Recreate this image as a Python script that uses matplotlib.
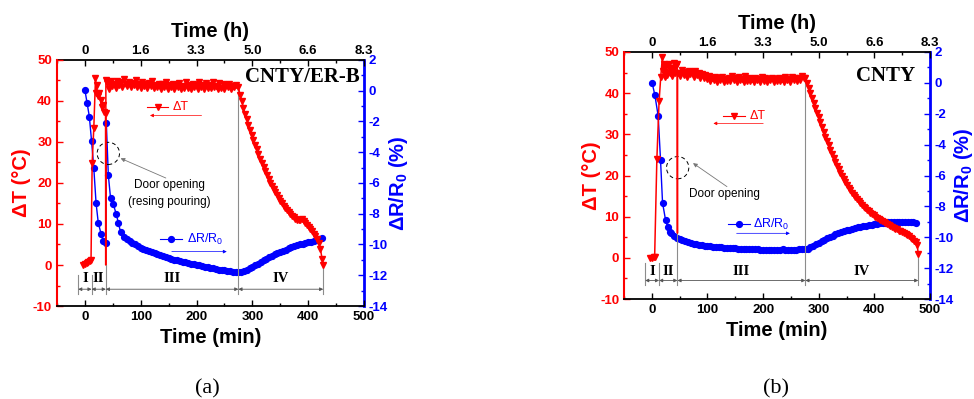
import numpy as np
import matplotlib
matplotlib.use("Agg")
import matplotlib.pyplot as plt
from matplotlib.ticker import MultipleLocator
from matplotlib.patches import Ellipse

plt.rcParams["font.family"] = ["Liberation Sans", "DejaVu Sans"]
plt.rcParams["axes.unicode_minus"] = False
plt.rcParams["mathtext.fontset"] = "custom"
plt.rcParams["mathtext.rm"] = "Liberation Sans"
plt.rcParams["mathtext.bf"] = "Liberation Sans:bold"

RED = "#ff0000"
BLUE = "#0000ff"
GREY = "#8c8c8c"

# --------------------- (a) CNTY/ER-B ---------------------
# temperature rise: heating start + door opening (resin pouring)
a_dT_t0 = [-3, 0, 3, 6, 9, 11, 13, 16, 19, 20, 21, 23, 25, 28, 30, 33, 35, 37, 37.3, 37.6]
a_dT_v0 = [0.0, 0.2, 0.5, 0.7, 0.9, 1.2, 24.8, 33.5, 45.5, 42.0, 43.8, 41.2, 41.8, 40.2,
           38.6, 38.9, 37.4, 37.0, 0.0, 45.0]
a_door_t = [37.3]
# steady state, sampled every 3 min from 40 min
a_dT_plateau = [44.4, 42.8, 44.9, 43.6, 44.2, 43.1, 44.8, 43.9, 44.5, 43.4, 45.3, 44.0, 43.6,
                44.7, 43.3, 44.4, 43.8, 45.0, 43.5, 44.1, 43.2, 44.6, 43.7, 44.0, 43.1, 44.3,
                43.6, 44.8, 43.2, 43.9, 43.4, 44.2, 42.9, 44.0, 43.5, 44.5, 43.0, 43.8, 43.3,
                44.1, 42.8, 43.9, 43.4, 44.3, 43.0, 43.7, 43.2, 44.6, 43.1, 43.8, 42.9, 44.2,
                43.5, 43.9, 43.0, 44.7, 43.3, 43.8, 42.9, 44.4, 43.2, 43.9, 43.1, 44.5, 43.4,
                43.7, 43.0, 44.3, 43.2, 44.0, 42.9, 43.8, 43.4, 44.1, 43.0, 43.6, 43.3, 43.9]
# cooling, every 3 min from 275 min
a_dT_cool = [43.3, 41.5, 40.0, 38.3, 36.8, 35.5, 34.2, 33.0, 31.8, 30.5, 29.3, 28.2, 27.0,
             25.9, 24.8, 23.8, 22.8, 21.9, 21.0, 20.1, 19.3, 18.5, 17.7, 17.0, 16.3, 15.7,
             15.1, 14.5, 13.9, 13.4, 12.9, 12.4, 12.0, 11.6, 11.2, 11.0, 10.9, 11.0, 11.1,
             10.8, 10.3, 9.7, 9.2, 8.7, 8.2, 7.6, 7.0, 6.3, 5.4, 3.8, 1.5]
a_dT_end = [0.0]

# resistance change
a_dR_t0 = [0, 4, 8, 12, 16, 20, 24, 29, 33, 37.5, 38.4, 42, 46, 51, 56, 60, 64]
a_dR_v0 = [0.05, -0.82, -1.69, -3.3, -5.05, -7.3, -8.6, -9.3, -9.75, -9.9, -2.1, -5.5, -7.0,
           -7.4, -8.0, -8.6, -9.2]
# every 5 min from 70 min
a_dR_dense = [-9.5, -9.65, -9.78, -9.9, -10.0, -10.1, -10.2, -10.28, -10.36, -10.44, -10.51,
              -10.58, -10.65, -10.71, -10.77, -10.83, -10.88, -10.93, -10.98, -11.03, -11.08,
              -11.12, -11.16, -11.2, -11.24, -11.28, -11.32, -11.36, -11.4, -11.44, -11.48,
              -11.52, -11.56, -11.6, -11.63, -11.66, -11.69, -11.72, -11.75, -11.78, -11.8,
              -11.82, -11.78, -11.72, -11.64, -11.55, -11.46, -11.36, -11.25, -11.14, -11.03,
              -10.93, -10.83, -10.74, -10.65, -10.57, -10.49, -10.41, -10.33, -10.25, -10.18,
              -10.11, -10.05, -10.0, -9.95, -9.9, -9.86, -9.82, -9.76, -9.71, -9.66, -9.6]
a_bounds = [-12, 12, 37.5, 275, 427]
a_bound_top = [-2.5, -2.5, 0, 43, 0]

# --------------------- (b) CNTY ---------------------
b_dT_t0 = [-3, 0, 3, 5, 9, 13, 16, 19, 20, 22, 24, 26, 28, 31, 33, 35, 37, 39, 41, 43, 45.5, 46, 46.3]
b_dT_v0 = [0.0, 0.0, 0.1, 0.2, 24.0, 38.0, 44.0, 48.9, 45.5, 47.0, 44.0, 46.5, 44.5, 47.2,
           44.8, 46.0, 44.2, 47.4, 45.0, 46.5, 47.2, 6.0, 45.0]
b_door_t = [46]
# every 3 min from 48 min
b_dT_plateau = [45.0, 44.2, 45.6, 44.5, 45.2, 44.0, 45.4, 44.6, 45.1, 43.9, 45.3, 44.4, 44.9,
                43.8, 44.6, 43.6, 44.5, 43.4, 44.2, 42.9, 43.8, 43.2, 44.0, 42.8, 43.6, 43.1,
                43.9, 42.7, 43.5, 43.0, 43.8, 42.9, 44.1, 43.2, 43.6, 42.8, 43.9, 43.1, 43.5,
                42.7, 44.2, 43.0, 43.7, 42.9, 43.4, 42.6, 43.8, 43.1, 43.5, 42.8, 43.9, 43.0,
                43.6, 42.7, 43.4, 43.1, 43.8, 42.8, 43.5, 42.9, 43.7, 43.0, 43.4, 42.6, 43.9,
                43.1, 43.5, 42.8, 44.0, 43.2, 43.6, 42.9, 43.8, 43.3, 44.1, 43.6]
# every 3 min from 276 min
b_dT_cool = [43.8, 42.5, 41.3, 40.0, 38.8, 37.6, 36.4, 35.2, 34.1, 33.0, 31.8, 30.6, 29.4,
             28.3, 27.3, 26.3, 25.3, 24.3, 23.3, 22.4, 21.5, 20.7, 19.9, 19.1, 18.4, 17.7,
             17.0, 16.4, 15.8, 15.2, 14.7, 14.2, 13.7, 13.2, 12.8, 12.4, 12.0, 11.6, 11.3,
             10.9, 10.6, 10.3, 10.0, 9.7, 9.5, 9.2, 8.9, 8.7, 8.4, 8.2, 7.9, 7.7, 7.5, 7.3,
             7.1, 6.9, 6.6, 6.4, 6.2, 6.0, 5.8, 5.5, 5.2, 4.9, 4.5, 4.2, 3.8, 3.0]
b_dT_end = [1.0]

b_dR_t0 = [0.5, 5.4, 11.4, 15.6, 19.2, 24.6, 28.2, 32.4]
b_dR_v0 = [0.0, -0.79, -2.15, -5.0, -7.76, -8.88, -9.31, -9.64]
# every 5 min from 35 min
b_dR_dense = [-9.75, -9.9, -10.02, -10.12, -10.2, -10.27, -10.32, -10.37, -10.41, -10.45,
              -10.48, -10.51, -10.54, -10.56, -10.58, -10.6, -10.62, -10.64, -10.66, -10.67,
              -10.69, -10.7, -10.71, -10.72, -10.74, -10.75, -10.76, -10.77, -10.77, -10.78,
              -10.79, -10.79, -10.8, -10.8, -10.8, -10.81, -10.8, -10.8, -10.8, -10.8,
              -10.79, -10.8, -10.8, -10.81, -10.8, -10.8, -10.79, -10.78, -10.77, -10.73,
              -10.66, -10.56, -10.45, -10.35, -10.25, -10.15, -10.06, -9.98, -9.9, -9.82,
              -9.75, -9.68, -9.62, -9.56, -9.5, -9.45, -9.4, -9.36, -9.32, -9.28, -9.25,
              -9.21, -9.18, -9.15, -9.12, -9.1, -9.08, -9.06, -9.04, -9.03, -9.02, -9.01,
              -9.0, -8.99, -8.99, -9.0, -9.01, -9.03, -9.05]
b_bounds = [-12, 13, 46, 276, 479]
b_bound_top = [-1.3, -1.3, 6, 43.5, 1.0]

stage_names = ["I", "II", "III", "IV"]
time_min_ticks = [0, 100, 200, 300, 400, 500]
time_h_labels = ["0", "1.6", "3.3", "5.0", "6.6", "8.3"]


def build(t0, v0, start, step, *parts):
    t = list(t0)
    v = list(v0)
    for p in parts:
        t += list(start + step * np.arange(len(p)))
        v += list(p)
        start = t[-1] + step
    return np.array(t), np.array(v)


def panel(rect, dT_t, dT_v, door_t, dR_t, dR_v, bounds, bound_top, arrow_y, label_y, bot,
          title, title_pos, circle, door_txt, door_xy, arrow_from, arrow_to,
          leg_dT, leg_dR, ylab_x, yrlab_x):
    ax = fig.add_axes(rect)
    ax2 = ax.twinx()
    ax.set_zorder(ax2.get_zorder() + 1)
    ax.patch.set_visible(False)

    ax2.plot(dR_t, dR_v, "-o", color=BLUE, ms=4.2, lw=1.0, mec=BLUE)
    # no symbol on the momentary dip when the door is opened
    marks = [i for i, t in enumerate(dT_t) if t not in door_t]
    ax.plot(dT_t, dT_v, "-v", color=RED, ms=4.5, lw=1.1, mec=RED, markevery=marks)

    ax.set_xlim(-50, 500)
    ax.set_ylim(-10, 50)
    ax2.set_ylim(-14, 2)

    # stage boundaries and arrows
    for x, top in zip(bounds, bound_top):
        ax.plot([x, x], [bot, top], color=GREY, lw=0.8, zorder=1)
    for i, name in enumerate(stage_names):
        x0, x1 = bounds[i], bounds[i + 1]
        ax.annotate("", xy=(x1, arrow_y), xytext=(x0, arrow_y),
                    arrowprops=dict(arrowstyle="<|-|>", color="#555555", lw=0.6,
                                    mutation_scale=5, shrinkA=0, shrinkB=0))
        ax.text((x0 + x1) / 2, label_y, name, ha="center", va="center",
                family="Liberation Serif", fontweight="bold", fontsize=10.5)

    ax.text(title_pos[0], title_pos[1], title, transform=ax.transAxes, ha="right",
            va="center", family="Liberation Serif", fontweight="bold", fontsize=15)

    # door opening marker
    ax.add_patch(Ellipse(circle, 40, 5.4, fill=False, ls=(0, (4, 3)), lw=0.7, color="k"))
    ax.annotate("", xy=arrow_to, xytext=arrow_from,
                arrowprops=dict(arrowstyle="-|>", color="#777777", lw=0.6,
                                mutation_scale=6, shrinkA=0, shrinkB=0))
    for (x, y), s in zip(door_xy, door_txt):
        ax.text(x, y, s, ha="center", va="center", fontsize=8.5)

    # in-plot keys with direction arrows
    (lx0, lx1, ly, tx, ax0, ax1, ay) = leg_dT
    ax.plot([lx0, lx1], [ly, ly], "-", color=RED, lw=0.8, transform=ax.transAxes)
    ax.plot([(lx0 + lx1) / 2], [ly], "v", color=RED, ms=4.5, transform=ax.transAxes)
    ax.text(tx, ly, "ΔT", color=RED, fontsize=9, va="center", transform=ax.transAxes)
    ax.annotate("", xy=(ax1, ay), xytext=(ax0, ay), xycoords="axes fraction",
                arrowprops=dict(arrowstyle="-|>", color=RED, lw=0.5, mutation_scale=5,
                                shrinkA=0, shrinkB=0))
    (lx0, lx1, ly, tx, ax0, ax1, ay) = leg_dR
    ax.plot([lx0, lx1], [ly, ly], "-", color=BLUE, lw=0.8, transform=ax.transAxes)
    ax.plot([(lx0 + lx1) / 2], [ly], "o", color=BLUE, ms=4.2, transform=ax.transAxes)
    ax.text(tx, ly, "ΔR/R$_0$", color=BLUE, fontsize=9, va="center", transform=ax.transAxes)
    ax.annotate("", xy=(ax1, ay), xytext=(ax0, ay), xycoords="axes fraction",
                arrowprops=dict(arrowstyle="-|>", color=BLUE, lw=0.5, mutation_scale=5,
                                shrinkA=0, shrinkB=0))

    # axes styling
    ax.set_xticks(time_min_ticks)
    ax.xaxis.set_minor_locator(MultipleLocator(50))
    ax.yaxis.set_major_locator(MultipleLocator(10))
    ax.yaxis.set_minor_locator(MultipleLocator(5))
    ax2.yaxis.set_major_locator(MultipleLocator(2))
    ax2.yaxis.set_minor_locator(MultipleLocator(1))

    ax.tick_params(axis="x", which="both", direction="in", width=1.0, labelsize=9.5)
    ax.tick_params(axis="x", which="major", length=4)
    ax.tick_params(axis="x", which="minor", length=2.5)
    ax.tick_params(axis="y", which="both", direction="in", colors=RED, width=1.0, labelsize=9.5)
    ax.tick_params(axis="y", which="major", length=4)
    ax.tick_params(axis="y", which="minor", length=2.5)
    ax2.tick_params(axis="y", which="both", direction="in", colors=BLUE, width=1.0, labelsize=9.5)
    ax2.tick_params(axis="y", which="major", length=4)
    ax2.tick_params(axis="y", which="minor", length=2.5)
    for lab in ax.get_xticklabels() + ax.get_yticklabels() + ax2.get_yticklabels():
        lab.set_fontweight("bold")

    sec = ax.secondary_xaxis("top")
    sec.set_xticks(time_min_ticks, labels=time_h_labels)
    sec.xaxis.set_minor_locator(MultipleLocator(50))
    sec.tick_params(which="both", direction="in", width=1.0, labelsize=9.5, pad=2)
    sec.tick_params(which="major", length=4)
    sec.tick_params(which="minor", length=2.5)
    for lab in sec.get_xticklabels():
        lab.set_fontweight("bold")
    sec.spines["top"].set_linewidth(1.3)

    ax.spines["left"].set_color(RED)
    ax.spines["left"].set_linewidth(1.5)
    ax.spines["right"].set_visible(False)
    ax.spines["top"].set_visible(False)
    ax.spines["bottom"].set_linewidth(1.3)
    ax2.spines["left"].set_visible(False)
    ax2.spines["top"].set_visible(False)
    ax2.spines["bottom"].set_visible(False)
    ax2.spines["right"].set_color(BLUE)
    ax2.spines["right"].set_linewidth(2.0)

    ax.text(0.5, -0.126, "Time (min)", transform=ax.transAxes, ha="center", va="center",
            fontsize=14.5, fontweight="bold")
    ax.text(0.5, 1.114, "Time (h)", transform=ax.transAxes, ha="center", va="center",
            fontsize=14.5, fontweight="bold")
    ax.text(ylab_x, 0.5, "ΔT (°C)", transform=ax.transAxes, ha="center", va="center",
            rotation=90, fontsize=14.5, fontweight="bold", color=RED)
    ax.text(yrlab_x, 0.5, r"ΔR/R$_\mathbf{0}$ (%)", transform=ax.transAxes, ha="center",
            va="center", rotation=90, fontsize=14.5, fontweight="bold", color=BLUE)
    return ax


fig = plt.figure(figsize=(9.74, 3.99), dpi=100)

a_T, a_V = build(a_dT_t0, a_dT_v0, 40, 3, a_dT_plateau)
a_Tc = 275 + 3 * np.arange(len(a_dT_cool))
a_T = np.concatenate([a_T, a_Tc, [427]])
a_V = np.concatenate([a_V, a_dT_cool, a_dT_end])
a_Rt, a_Rv = build(a_dR_t0, a_dR_v0, 70, 5, a_dR_dense)

b_T, b_V = build(b_dT_t0, b_dT_v0, 48, 3, b_dT_plateau)
keep = b_T < 276
b_Tc = 276 + 3 * np.arange(len(b_dT_cool))
b_T = np.concatenate([b_T[keep], b_Tc, [479]])
b_V = np.concatenate([b_V[keep], b_dT_cool, b_dT_end])
b_Rt, b_Rv = build(b_dR_t0, b_dR_v0, 35, 5, b_dR_dense)

panel([0.0585, 0.233, 0.3152, 0.617], a_T, a_V, a_door_t, a_Rt, a_Rv, a_bounds, a_bound_top,
      -5.9, -3.4, -7.0, "CNTY/ER-B", (0.985, 0.931), (42, 27.2),
      ["Door opening", "(resing pouring)"], [(151, 19.6), (151, 15.4)],
      (145, 21.2), (64, 26.0),
      (0.292, 0.363, 0.810, 0.377, 0.471, 0.303, 0.774),
      (0.336, 0.406, 0.271, 0.422, 0.374, 0.553, 0.221),
      -0.114, 1.114)

panel([0.6407, 0.2506, 0.3141, 0.6191], b_T, b_V, b_door_t, b_Rt, b_Rv, b_bounds, b_bound_top,
      -5.5, -3.2, -6.5, "CNTY", (0.951, 0.903), (46.4, 21.9),
      ["Door opening"], [(130, 15.5)],
      (135, 17.3), (74, 23.0),
      (0.324, 0.395, 0.742, 0.412, 0.455, 0.292, 0.711),
      (0.339, 0.412, 0.302, 0.422, 0.368, 0.542, 0.266),
      -0.105, 1.108)

fig.text(0.2125, 0.025, "(a)", ha="center", va="center", family="Liberation Serif", fontsize=16)
fig.text(0.797, 0.025, "(b)", ha="center", va="center", family="Liberation Serif", fontsize=16)

fig.savefig("out.png", dpi=100)
